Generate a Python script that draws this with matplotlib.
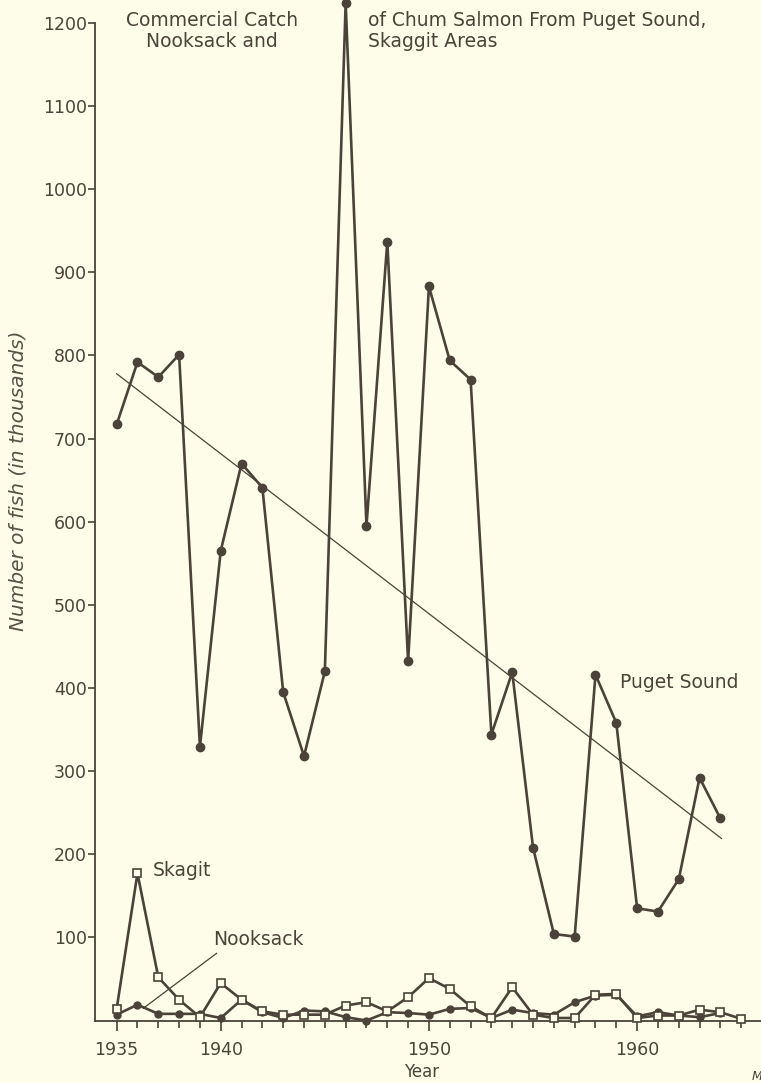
import matplotlib.pyplot as plt
from matplotlib.ticker import FixedLocator

# values (thousands of fish)
years_puget = list(range(1935, 1965))
puget = [717, 792, 774, 801, 329, 565, 670, 641, 395, 318,
         420, 1224, 595, 937, 432, 883, 794, 771, 344, 419,
         208, 104, 101, 416, 358, 135, 131, 170, 292, 243]

years_skagit = list(range(1935, 1966))
skagit = [14, 177, 52, 25, 4, 45, 25, 11, 7, 7,
          7, 18, 22, 11, 28, 51, 38, 17, 3, 40,
          7, 3, 3, 31, 32, 3, 6, 6, 13, 10, 2]

years_nooksack = list(range(1935, 1965))
nooksack = [7, 19, 8, 8, 8, 3, 25, 10, 3, 12,
            11, 4, 0, 10, 9, 7, 14, 15, 3, 13,
            9, 7, 22, 30, 31, 5, 10, 6, 4, 9]

# straight trend line drawn through the Puget Sound catch
trend_years = [1935, 1964.05]
trend_values = [778, 219]

x_ticks = [1935, 1940, 1950, 1960]
minor_years = list(range(1935, 1966))
y_ticks = list(range(100, 1300, 100))

bg = '#fdfde9'
ink = '#4b4239'

fig = plt.figure(figsize=(7.61, 10.83), dpi=100, facecolor=bg)
ax = fig.add_axes([95 / 761, 62.5 / 1083, 666 / 761, 1020.5 / 1083])
ax.set_facecolor(bg)

ax.plot(trend_years, trend_values, color=ink, lw=0.9)
ax.plot(years_puget, puget, color=ink, lw=1.9, marker='o', ms=6,
        mfc=ink, mec=ink, clip_on=False, zorder=3)
ax.plot(years_nooksack, nooksack, color=ink, lw=1.9, marker='o', ms=5,
        mfc=ink, mec=ink, zorder=4, clip_on=False)
ax.plot(years_skagit, skagit, color=ink, lw=1.9, marker='s', ms=6,
        mfc=bg, mec=ink, mew=1.2, zorder=5, clip_on=False)

ax.set_xlim(1933.96, 1965.95)
ax.set_ylim(0, 1227.6)

for side in ['top', 'right']:
    ax.spines[side].set_visible(False)
ax.spines['left'].set_bounds(0, 1200)
for side in ['left', 'bottom']:
    ax.spines[side].set_color(ink)
    ax.spines[side].set_linewidth(1.3)

ax.set_xticks(x_ticks)
ax.xaxis.set_minor_locator(FixedLocator(minor_years))
ax.set_yticks(y_ticks)
ax.tick_params(axis='x', which='major', length=7, width=1.2, color=ink,
               labelsize=12.5, labelcolor=ink, pad=8)
ax.tick_params(axis='x', which='minor', length=5, width=1.2, color=ink)
ax.tick_params(axis='y', length=5, width=1.2, color=ink,
               labelsize=12.5, labelcolor=ink, pad=1)

# labels on the series
ax.text(1936.73, 181, 'Skagit', color=ink, fontsize=13.5, va='center')
ax.text(1939.64, 97, 'Nooksack', color=ink, fontsize=13.5, va='center')
ax.plot([1939.8, 1936.28], [80.8, 14.7], color=ink, lw=0.9)
ax.text(1959.17, 407, 'Puget Sound', color=ink, fontsize=13.5, va='center')

# title split around the 1946 spike
fig.text(212 / 761, 1 - 11 / 1083, 'Commercial Catch\nNooksack and',
         color=ink, fontsize=13.5, ha='center', va='top', linespacing=1.15)
fig.text(368 / 761, 1 - 11 / 1083, 'of Chum Salmon From Puget Sound,\nSkaggit Areas',
         color=ink, fontsize=13.5, ha='left', va='top', linespacing=1.15)

fig.text(18 / 761, 1 - 481 / 1083, 'Number of fish (in thousands)', color='#5a5048',
         fontsize=14.5, style='italic', rotation=90, ha='center', va='center')
fig.text(422 / 761, 1 - 1072 / 1083, 'Year', color=ink, fontsize=12,
         ha='center', va='center')
fig.text(752 / 761, 1 - 1076 / 1083, 'M', color=ink, fontsize=9,
         style='italic', ha='left', va='center')

fig.savefig('out.png', dpi=100, facecolor=bg)
